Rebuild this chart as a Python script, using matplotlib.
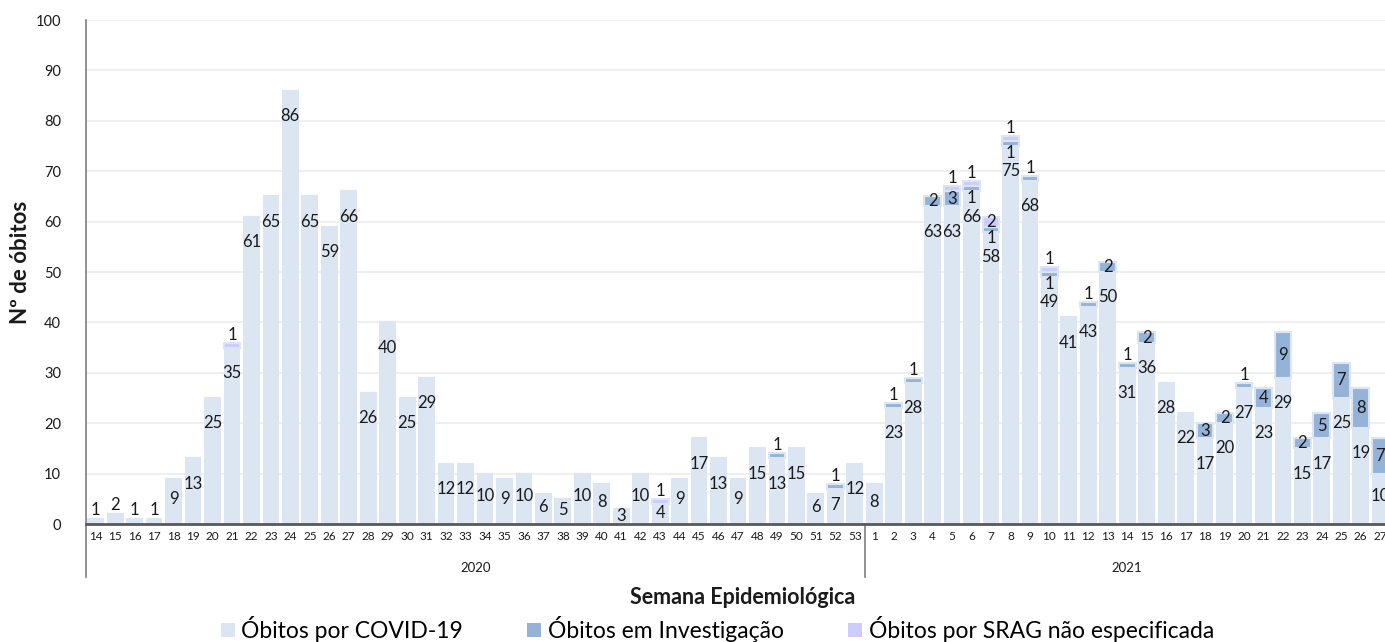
import numpy as np
import matplotlib.pyplot as plt
from matplotlib.patches import Patch
from matplotlib.lines import Line2D

plt.rcParams['font.family'] = ['Lato', 'DejaVu Sans']

# semanas epidemiologicas
semanas_2020 = list(range(14, 54))
semanas_2021 = list(range(1, 28))

# obitos por covid-19
covid_2020 = [1, 2, 1, 1, 9, 13, 25, 35, 61, 65,
              86, 65, 59, 66, 26, 40, 25, 29, 12, 12,
              10, 9, 10, 6, 5, 10, 8, 3, 10, 4,
              9, 17, 13, 9, 15, 13, 15, 6, 7, 12]
covid_2021 = [8, 23, 28, 63, 63, 66, 58, 75, 68, 49,
              41, 43, 50, 31, 36, 28, 22, 17, 20, 27,
              23, 29, 15, 17, 25, 19, 10]

# obitos em investigacao
invest_2020 = [0, 0, 0, 0, 0, 0, 0, 0, 0, 0,
               0, 0, 0, 0, 0, 0, 0, 0, 0, 0,
               0, 0, 0, 0, 0, 0, 0, 0, 0, 0,
               0, 0, 0, 0, 0, 1, 0, 0, 1, 0]
invest_2021 = [0, 1, 1, 2, 3, 1, 1, 1, 1, 1,
               0, 1, 2, 1, 2, 0, 0, 3, 2, 1,
               4, 9, 2, 5, 7, 8, 7]

# obitos por SRAG nao especificada
srag_2020 = [0, 0, 0, 0, 0, 0, 0, 1, 0, 0,
             0, 0, 0, 0, 0, 0, 0, 0, 0, 0,
             0, 0, 0, 0, 0, 0, 0, 0, 0, 1,
             0, 0, 0, 0, 0, 0, 0, 0, 0, 0]
srag_2021 = [0, 0, 0, 0, 1, 1, 2, 1, 0, 1,
             0, 0, 0, 0, 0, 0, 0, 0, 0, 0,
             0, 0, 0, 0, 0, 0, 0]

cor_covid = '#DCE6F2'
cor_inv = '#95B3D7'
cor_srag = '#CCCCFF'

semanas = semanas_2020 + semanas_2021
covid = np.array(covid_2020 + covid_2021)
invest = np.array(invest_2020 + invest_2021)
srag = np.array(srag_2020 + srag_2021)
x = np.arange(len(semanas))
n2020 = len(semanas_2020)

fig = plt.figure(figsize=(13.85, 6.42), dpi=100)
ax = fig.add_axes([0.0621, 0.1838, 0.9415, 0.785])

larg = 0.86
ax.bar(x, covid, larg, color=cor_covid, zorder=2)
ax.bar(x, invest, larg, bottom=covid, color=cor_inv, edgecolor=cor_covid, linewidth=1.5, zorder=2)
ax.bar(x, srag, larg, bottom=covid + invest, color=cor_srag, edgecolor=cor_covid, linewidth=1.5, zorder=2)

# rotulos
fs = 12
for i in x:
    c, v, s = covid[i], invest[i], srag[i]
    if c <= 2:
        yc = c + 1.8
    else:
        yc = c - min(5, c * 0.45)
    ax.text(i, yc, str(c), ha='center', va='center', fontsize=fs, color='#1a1a1a', zorder=4)
    if v > 0:
        if v >= 2:
            yv = c + v / 2
        elif s > 0:
            yv = c - 1.3
        else:
            yv = c + v + 1.6
        ax.text(i, yv, str(v), ha='center', va='center', fontsize=fs, color='#1a1a1a', zorder=4)
    if s > 0:
        if s >= 2:
            ys = c + v + s / 2
        else:
            ys = c + v + s + 1.6
        ax.text(i, ys, str(s), ha='center', va='center', fontsize=fs, color='#1a1a1a', zorder=4)

ax.set_ylim(0, 100)
ax.set_xlim(-0.5, len(x) - 0.5)
ax.set_yticks(range(0, 101, 10))
ax.yaxis.grid(True, color='#EEEEEE', linewidth=1.3)
ax.set_axisbelow(True)
ax.tick_params(axis='y', length=0, pad=18, labelsize=10.5, labelcolor='#1a1a1a')
ax.set_xticks(x)
ax.set_xticklabels([str(s) for s in semanas], fontsize=8.5, color='#1a1a1a')
ax.tick_params(axis='x', length=0, pad=5)

for lado in ['top', 'right']:
    ax.spines[lado].set_visible(False)
ax.spines['left'].set_visible(False)
ax.spines['bottom'].set_color('#595959')
ax.spines['bottom'].set_linewidth(2)

# linhas do eixo de categorias em dois niveis
trans = ax.get_xaxis_transform()
for xl, y0 in [(-0.5, 1.0), (n2020 - 0.5, 0.0)]:
    ax.add_line(Line2D([xl, xl], [y0, -0.105], transform=trans, color='#7F7F7F',
                       linewidth=1.2, clip_on=False))
ax.text((n2020 - 1) / 2, -0.087, '2020', transform=trans, ha='center', va='center',
        fontsize=9.5, color='#1a1a1a')
ax.text(n2020 + (len(semanas_2021) - 1) / 2, -0.087, '2021', transform=trans, ha='center',
        va='center', fontsize=9.5, color='#1a1a1a')

fig.text(0.5365, 1 - 598 / 642, 'Semana Epidemiológica', ha='center', va='center',
         fontsize=15.5, fontweight='bold', color='#1a1a1a')
fig.text(0.0145, 1 - 262 / 642, 'Nº de óbitos', rotation=90, ha='center', va='center',
         fontsize=16, fontweight='bold', color='#1a1a1a')

handles = [Patch(facecolor=cor_covid), Patch(facecolor=cor_inv), Patch(facecolor=cor_srag)]
nomes = ['Óbitos por COVID-19', 'Óbitos em Investigação', 'Óbitos por SRAG não especificada']
fig.legend(handles, nomes, loc='center', bbox_to_anchor=(0.518, 1 - 629 / 642), ncol=3,
           frameon=False, fontsize=16.5, handlelength=0.6, handleheight=0.6,
           columnspacing=2.8, handletextpad=0.3, borderpad=0)

fig.savefig('out.png', dpi=100)
